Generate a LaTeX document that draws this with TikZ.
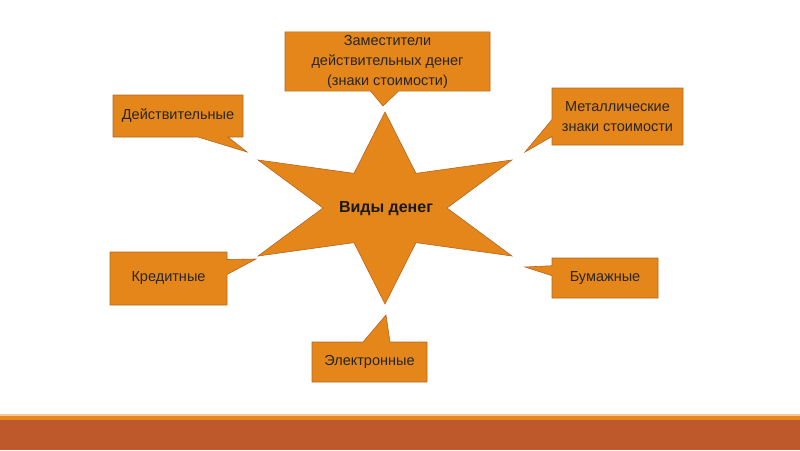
\documentclass[tikz,border=0pt]{standalone}
\usepackage{fontspec}
\setmainfont{Liberation Sans}
\usetikzlibrary{shapes.callouts}
\definecolor{bubbleorange}{HTML}{E4861A}
\definecolor{bubbleline}{HTML}{B5651E}
\definecolor{barrust}{HTML}{BE592C}
\definecolor{barorange}{HTML}{E8871E}
\tikzset{
  bubble/.style={rectangle callout,draw=bubbleline,fill=bubbleorange,line width=0.6pt,
    align=center,inner sep=3pt,text=black!85,font=\fontsize{14.5}{20}\selectfont},
  starfill/.style={draw=bubbleline,fill=bubbleorange,line width=0.6pt,line join=miter}
}

\begin{document}
\begin{tikzpicture}[x=1pt,y=-1pt]
\useasboundingbox (0,0) rectangle (800,450);
% bottom band
\fill[barorange!45] (0,414) rectangle (800,416);
\fill[barorange] (0,416) rectangle (800,420);
\fill[barrust] (0,420) rectangle (800,450);

% star in the middle
\draw[starfill,shift={(385,208)}] (90:146.6 and 96)
  \foreach \a in {90,150,...,330} { -- ({\a+30}:62 and 40) -- ({\a+60}:146.6 and 96)}
  -- (60:62 and 40) -- cycle;
\node[font=\fontsize{16}{18}\selectfont\bfseries, text=black!90] (vid) at (386,209) {Виды денег};

% tips of the callouts
\coordinate (tzam) at (383,106);
\coordinate (tdeis) at (247,152);
\coordinate (tmet) at (525,152);
\coordinate (tkred) at (256,259);
\coordinate (tbum) at (525,267);
\coordinate (tel) at (386,315);

\node[bubble, minimum width=205pt, minimum height=55pt, callout absolute pointer={(tzam)},
  callout pointer width=28pt] (zam) at (387.5,61.5) {Заместители\\действительных денег\\(знаки стоимости)};
\node[bubble, minimum width=130pt, minimum height=42pt, callout absolute pointer={(tdeis)},
  callout pointer width=30pt] (deis) at (178,116) {Действительные};
\node[bubble, minimum width=131pt, minimum height=57pt, callout absolute pointer={(tmet)},
  callout pointer width=17pt] (met) at (617.5,116.5) {Металлические\\знаки стоимости};
\node[bubble, minimum width=117pt, minimum height=53pt, callout absolute pointer={(tkred)},
  callout pointer width=15pt] (kred) at (168.5,278.5) {Кредитные};
\node[bubble, minimum width=106pt, minimum height=40pt, callout absolute pointer={(tbum)},
  callout pointer width=10pt] (bum) at (605,278) {Бумажные};
\node[bubble, minimum width=115pt, minimum height=40pt, callout absolute pointer={(tel)},
  callout pointer width=27pt] (el) at (369.5,362) {Электронные};
\end{tikzpicture}
\end{document}
